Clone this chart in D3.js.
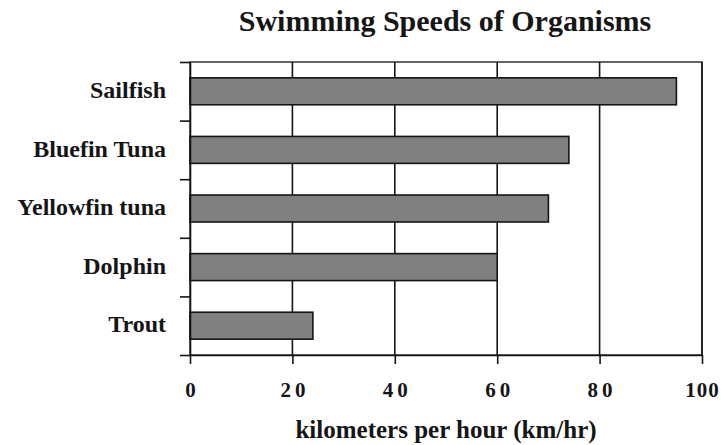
<!DOCTYPE html>
<html>
<head>
<meta charset="utf-8">
<script src="https://cdn.jsdelivr.net/npm/d3@7"></script>
<style>
  html, body { margin: 0; padding: 0; background: #fff; }
  svg { display: block; }
  text { font-family: "Liberation Serif", "DejaVu Serif", serif; font-weight: bold; fill: #151515; }
</style>
</head>
<body>
<svg id="chart" width="721" height="445"></svg>
<script>
// Swimming speeds, km/hr
const organisms = ["Sailfish", "Bluefin Tuna", "Yellowfin tuna", "Dolphin", "Trout"];
const speeds = [95, 74, 70, 60, 24];
const speedTicks = [0, 20, 40, 60, 80, 100];
const chartTitle = "Swimming Speeds of Organisms";
const axisTitle = "kilometers per hour (km/hr)";

const svg = d3.select("#chart");
const plot = { left: 190, right: 702, top: 62, bottom: 355 };
const ink = "#151515";

const x = d3.scaleLinear().domain([0, 100]).range([plot.left, plot.right]);
const y = d3.scaleBand().domain(organisms).range([plot.top, plot.bottom]).paddingInner(0.54).paddingOuter(0.27);
// boundaries between categories, used for the left-axis tick marks
const yEdge = d3.scaleLinear().domain([0, organisms.length]).range([plot.top, plot.bottom]);

// plot frame
svg.append("rect")
  .attr("x", plot.left).attr("y", plot.top)
  .attr("width", plot.right - plot.left).attr("height", plot.bottom - plot.top)
  .attr("fill", "none").attr("stroke", "#333").attr("stroke-width", 1.5);

// vertical gridlines
svg.append("g").selectAll("line")
  .data(speedTicks.filter(d => d > 0))
  .join("line")
  .attr("x1", d => x(d)).attr("x2", d => x(d))
  .attr("y1", plot.top).attr("y2", plot.bottom)
  .attr("stroke", ink).attr("stroke-width", 1.6);

// bars
svg.append("g").selectAll("rect")
  .data(organisms)
  .join("rect")
  .attr("x", x(0))
  .attr("y", d => y(d))
  .attr("width", (d, i) => x(speeds[i]) - x(0))
  .attr("height", y.bandwidth())
  .attr("fill", "#808080")
  .attr("stroke", ink)
  .attr("stroke-width", 1.6);

// x axis
const xAxis = svg.append("g")
  .attr("transform", `translate(0,${plot.bottom})`)
  .call(d3.axisBottom(x).tickValues(speedTicks).tickSize(9).tickSizeOuter(0).tickPadding(18));
xAxis.select(".domain").attr("stroke", ink).attr("stroke-width", 1.6);
xAxis.selectAll(".tick line").attr("stroke", ink).attr("stroke-width", 1.6);
xAxis.selectAll(".tick text")
  .attr("font-family", "Liberation Serif, serif")
  .attr("font-size", 21).attr("font-weight", "bold")
  .attr("letter-spacing", d => d >= 100 ? "1px" : "4px")
  .attr("dx", d => d >= 100 ? "0px" : "2px")
  .attr("fill", ink);

// y axis: tick marks at category boundaries
const yTicks = svg.append("g")
  .attr("transform", `translate(${plot.left},0)`)
  .call(d3.axisLeft(yEdge).ticks(organisms.length).tickFormat("").tickSize(10).tickSizeOuter(0));
yTicks.select(".domain").attr("stroke", ink).attr("stroke-width", 1.6);
yTicks.selectAll(".tick line").attr("stroke", ink).attr("stroke-width", 1.6);

// y axis: category labels at band centres
const yLabels = svg.append("g")
  .attr("transform", `translate(${plot.left},0)`)
  .call(d3.axisLeft(y).tickSize(0).tickPadding(24));
yLabels.select(".domain").remove();
yLabels.selectAll(".tick text")
  .attr("font-family", "Liberation Serif, serif")
  .attr("font-size", 24).attr("font-weight", "bold")
  .attr("dy", "0.28em")
  .attr("fill", ink);

// titles
svg.append("text")
  .attr("x", 445).attr("y", 31)
  .attr("text-anchor", "middle")
  .attr("font-size", 30)
  .text(chartTitle);

svg.append("text")
  .attr("x", 446).attr("y", 438)
  .attr("text-anchor", "middle")
  .attr("font-size", 25)
  .text(axisTitle);
</script>
</body>
</html>
